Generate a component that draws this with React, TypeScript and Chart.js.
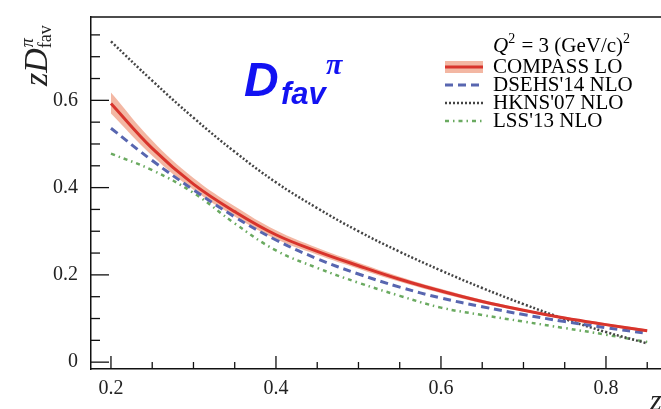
import React, { useEffect, useRef } from "react";
import { Chart, registerables } from "chart.js";

Chart.register(...registerables);

const zValues = [0.2, 0.25, 0.3, 0.35, 0.4, 0.45, 0.5, 0.55, 0.6, 0.65, 0.7, 0.75, 0.8, 0.85];
const compassLO = [0.593, 0.49, 0.408, 0.345, 0.292, 0.254, 0.221, 0.19, 0.163, 0.139, 0.119, 0.101, 0.086, 0.072];
const compassUpper = [0.618, 0.508, 0.422, 0.357, 0.302, 0.262, 0.228, 0.196, 0.168, 0.143, 0.122, 0.104, 0.089, 0.075];
const compassLower = [0.57, 0.473, 0.395, 0.334, 0.282, 0.246, 0.214, 0.184, 0.158, 0.135, 0.116, 0.098, 0.083, 0.069];
const dsehs14 = [0.536, 0.462, 0.395, 0.333, 0.28, 0.237, 0.202, 0.172, 0.147, 0.127, 0.109, 0.093, 0.079, 0.066];
const hkns07 = [0.735, 0.645, 0.56, 0.482, 0.412, 0.353, 0.3, 0.253, 0.21, 0.17, 0.133, 0.099, 0.069, 0.043];
const lss13 = [0.478, 0.44, 0.388, 0.318, 0.256, 0.216, 0.182, 0.152, 0.125, 0.108, 0.093, 0.078, 0.063, 0.046];

const xTickLabels = ["0.2", "0.4", "0.6", "0.8"];
const yTickLabels = ["0", "0.2", "0.4", "0.6"];
const legendLabels = ["COMPASS LO", "DSEHS'14 NLO", "HKNS'07 NLO", "LSS'13 NLO"];

const RED = "#d8342c";
const BAND = "rgba(240,165,140,0.8)";
const BLUE = "#5866b0";
const BLACK = "#444444";
const GREEN = "#6aaa60";
const SERIF = "'Liberation Serif', 'DejaVu Serif', serif";
const SANS = "'Liberation Sans', Arial, sans-serif";

const pts = (ys: number[]) => zValues.map((x, i) => ({ x, y: ys[i] }));

const decorPlugin = {
  id: "decor",
  afterDraw(chart: any) {
    const { ctx, chartArea, scales } = chart;
    const xs = scales.x;
    const ys = scales.y;
    ctx.save();
    ctx.strokeStyle = "#111";
    ctx.lineWidth = 1.5;
    ctx.beginPath();
    ctx.moveTo(chartArea.left, chartArea.top);
    ctx.lineTo(chartArea.right, chartArea.top);
    ctx.stroke();
    ctx.lineWidth = 1.3;
    for (let k = Math.ceil(xs.min / 0.05); k * 0.05 <= xs.max; k++) {
      const px = xs.getPixelForValue(k * 0.05);
      const major = k % 4 === 0;
      ctx.beginPath();
      ctx.moveTo(px, chartArea.bottom);
      ctx.lineTo(px, chartArea.bottom - (major ? 13 : 7));
      ctx.stroke();
    }
    for (let k = Math.ceil(ys.min / 0.05); k * 0.05 <= ys.max; k++) {
      const py = ys.getPixelForValue(k * 0.05);
      const major = k % 4 === 0;
      ctx.beginPath();
      ctx.moveTo(chartArea.left, py);
      ctx.lineTo(chartArea.left + (major ? 18 : 9), py);
      ctx.stroke();
    }
    // y axis title
    ctx.fillStyle = "#222";
    ctx.save();
    ctx.translate(47, 86);
    ctx.rotate(-Math.PI / 2);
    ctx.textBaseline = "alphabetic";
    ctx.textAlign = "left";
    ctx.font = `italic 34px ${SERIF}`;
    ctx.fillText("z", 0, 0);
    const wz = ctx.measureText("z").width;
    ctx.fillText("D", wz, 0);
    const wd = ctx.measureText("D").width;
    ctx.font = `italic 18px ${SERIF}`;
    ctx.fillText("\u03c0", wz + wd + 1, -14);
    ctx.font = `18px ${SERIF}`;
    ctx.fillText("fav", wz + wd, 4);
    ctx.restore();
    // x axis title
    ctx.font = `italic 30px ${SERIF}`;
    ctx.fillText("z", 650, 410);
    // legend
    ctx.fillStyle = "#000";
    ctx.textBaseline = "middle";
    const lx0 = 445, lx1 = 483, tx = 493;
    const y0 = 46;
    ctx.font = `italic 21px ${SERIF}`;
    ctx.fillText("Q", tx, y0);
    let cx = tx + ctx.measureText("Q").width;
    ctx.font = `14px ${SERIF}`;
    ctx.fillText("2", cx, y0 - 7);
    cx += ctx.measureText("2").width;
    ctx.font = `21px ${SERIF}`;
    const mid = " = 3 (GeV/c)";
    ctx.fillText(mid, cx + 1, y0);
    cx += ctx.measureText(mid).width + 1;
    ctx.font = `14px ${SERIF}`;
    ctx.fillText("2", cx, y0 - 7);
    const rows = [67, 85, 103, 121];
    ctx.font = `21px ${SERIF}`;
    legendLabels.forEach((lab, i) => {
      ctx.fillText(lab, tx, rows[i]);
    });
    const ds = chart.data.datasets;
    ctx.fillStyle = BAND;
    ctx.fillRect(lx0, rows[0] - 6, lx1 - lx0, 12);
    const sample = (d: any, y: number) => {
      ctx.strokeStyle = d.borderColor;
      ctx.lineWidth = d.borderWidth;
      ctx.setLineDash(d.borderDash || []);
      ctx.beginPath();
      ctx.moveTo(lx0, y);
      ctx.lineTo(lx1, y);
      ctx.stroke();
    };
    sample(ds[0], rows[0]);
    sample(ds[3], rows[1]);
    sample(ds[4], rows[2]);
    sample(ds[5], rows[3]);
    ctx.setLineDash([]);
    // D_fav^pi annotation
    ctx.fillStyle = "#1212f2";
    ctx.textBaseline = "alphabetic";
    ctx.font = `bold italic 48px ${SANS}`;
    ctx.fillText("D", 244, 96);
    ctx.font = `bold italic 31px ${SANS}`;
    ctx.fillText("fav", 281, 104);
    ctx.font = `bold italic 30px ${SERIF}`;
    ctx.fillText("\u03c0", 326, 74);
    ctx.restore();
  },
};

export default function App() {
  const ref = useRef<HTMLCanvasElement | null>(null);
  useEffect(() => {
    if (!ref.current) return;
    const common = { pointRadius: 0, tension: 0.4 };
    const chart = new Chart(ref.current, {
      type: "line",
      data: {
        datasets: [
          { label: legendLabels[0], data: pts(compassLO), borderColor: RED, borderWidth: 3, order: 0, ...common },
          { label: "band-lower", data: pts(compassLower), borderWidth: 0, borderColor: "rgba(0,0,0,0)", order: 10, ...common },
          {
            label: "band-upper",
            data: pts(compassUpper),
            borderWidth: 0,
            borderColor: "rgba(0,0,0,0)",
            backgroundColor: BAND,
            fill: 1,
            order: 9,
            ...common,
          },
          { label: legendLabels[1], data: pts(dsehs14), borderColor: BLUE, borderWidth: 3, borderDash: [8, 5], order: 2, ...common },
          { label: legendLabels[2], data: pts(hkns07), borderColor: BLACK, borderWidth: 2.5, borderDash: [2, 2], order: 3, ...common },
          { label: legendLabels[3], data: pts(lss13), borderColor: GREEN, borderWidth: 2.5, borderDash: [4, 4, 1.5, 4], order: 4, ...common },
        ] as any,
      },
      options: {
        animation: false,
        responsive: false,
        layout: { padding: { top: 10, right: 0, left: 0, bottom: 0 } },
        plugins: { legend: { display: false }, tooltip: { enabled: false } },
        scales: {
          x: {
            type: "linear",
            min: 0.1758,
            max: 0.8667,
            grid: { display: false },
            border: { display: true, color: "#111", width: 1.5 },
            afterFit: (s: any) => {
              s.height = 40;
            },
            ticks: {
              stepSize: 0.2,
              includeBounds: false,
              autoSkip: false,
              maxRotation: 0,
              padding: 0,
              color: "#222",
              font: { family: SERIF, size: 20 },
              callback: (v: any) => {
                const s = Number(v).toFixed(1);
                return xTickLabels.includes(s) ? s : "";
              },
            },
          },
          y: {
            type: "linear",
            min: -0.0157,
            max: 0.791,
            grid: { display: false },
            border: { display: true, color: "#111", width: 1.5 },
            afterFit: (s: any) => {
              s.width = 91;
            },
            ticks: {
              stepSize: 0.2,
              includeBounds: false,
              autoSkip: false,
              padding: 5,
              color: "#222",
              font: { family: SERIF, size: 20 },
              callback: (v: any) => {
                const n = Number(v);
                const s = Math.abs(n) < 1e-9 ? "0" : n.toFixed(1);
                return yTickLabels.includes(s) ? s : "";
              },
            },
          },
        },
      },
      plugins: [decorPlugin],
    } as any);
    return () => chart.destroy();
  }, []);
  return (
    <div style={{ position: "fixed", left: 0, top: 0, width: 661, height: 409, background: "#fff", overflow: "hidden" }}>
      <canvas ref={ref} width={661} height={409} style={{ display: "block", width: 661, height: 409 }} />
    </div>
  );
}
